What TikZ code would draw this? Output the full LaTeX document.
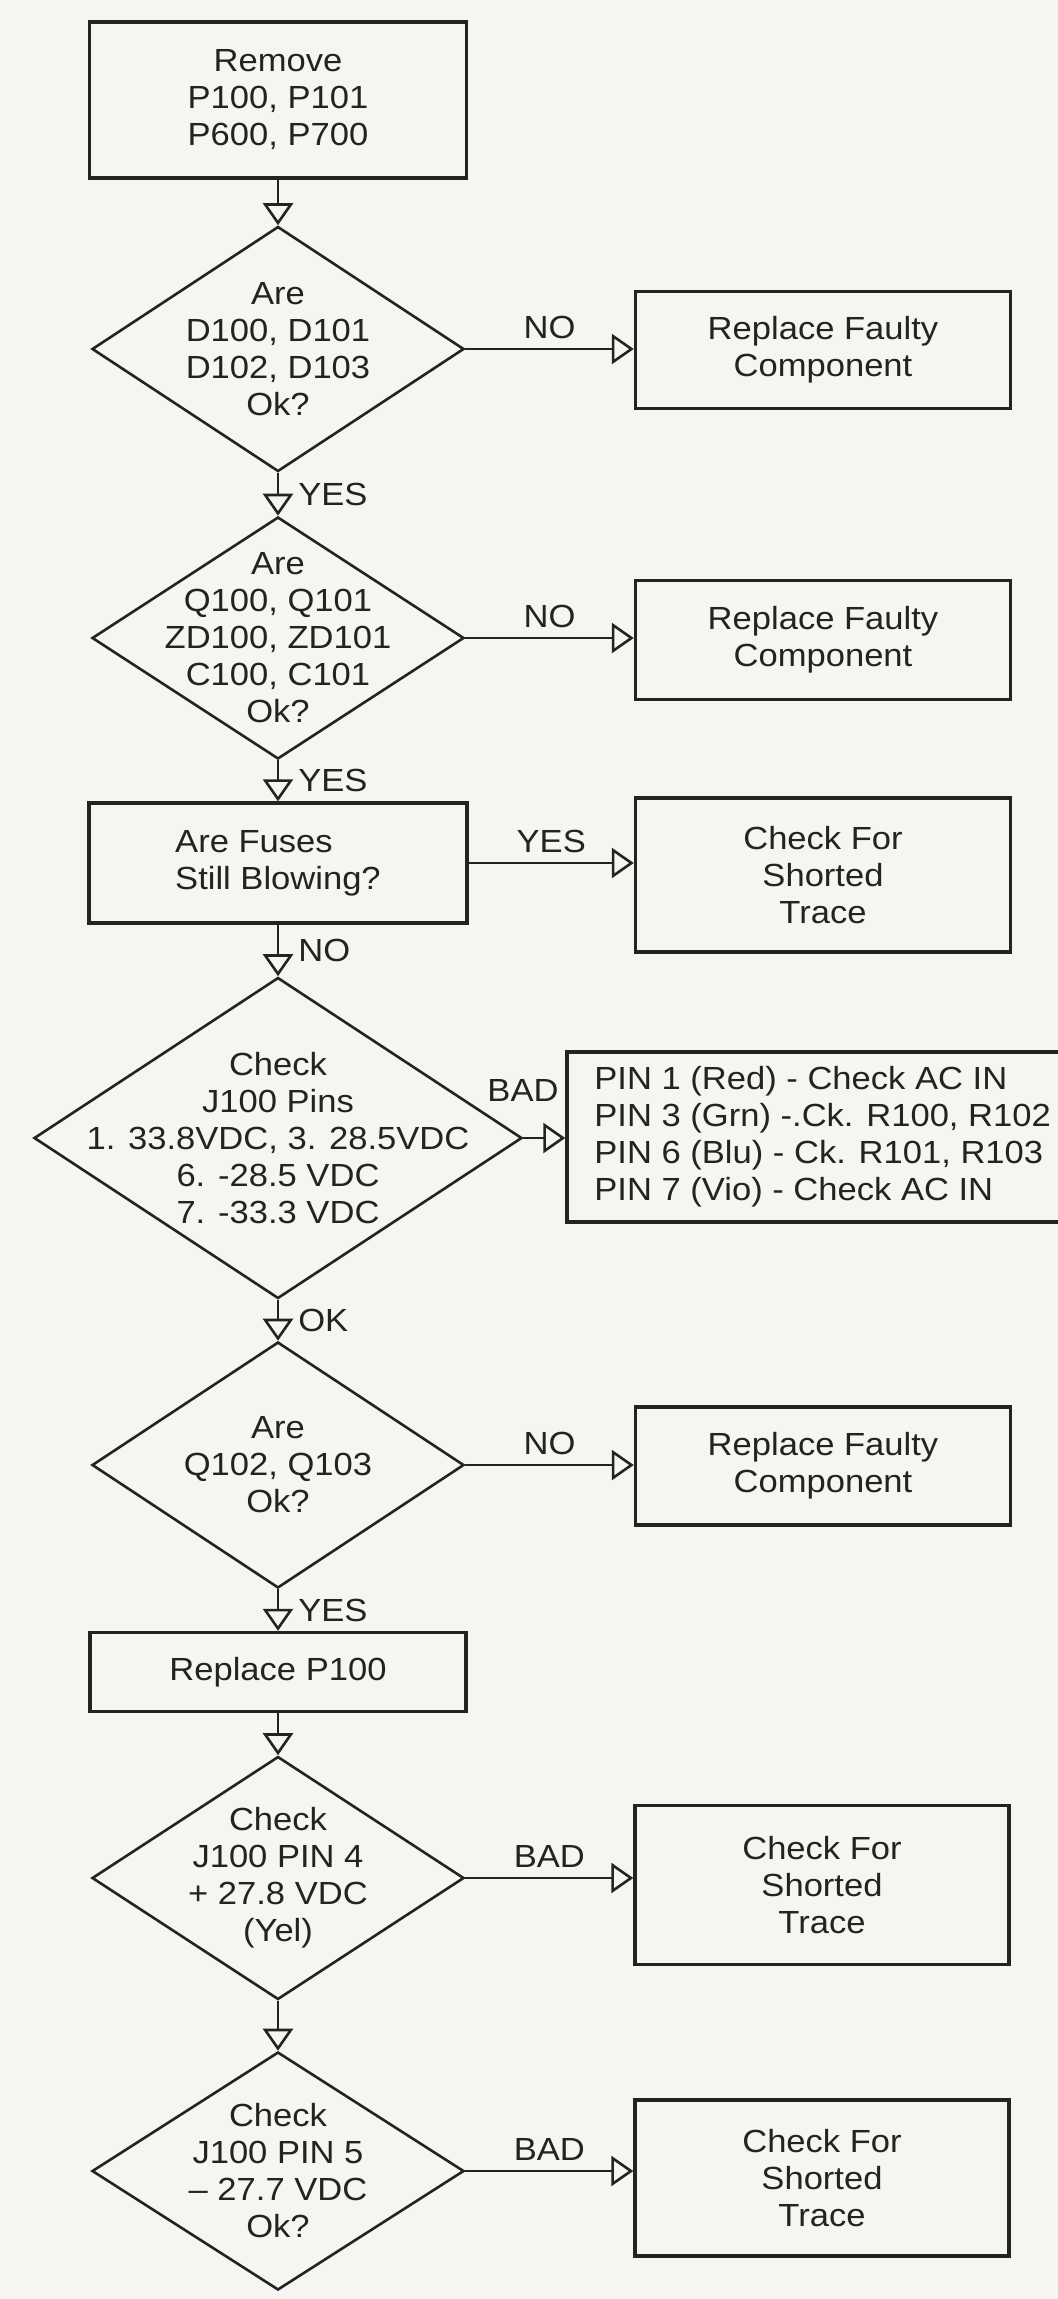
\documentclass[tikz,border=0pt]{standalone}
\usepackage{fontspec}
\setmainfont{Liberation Sans}[FakeStretch=1.08]
\usetikzlibrary{shapes.geometric,arrows.meta}
\definecolor{paper}{RGB}{246,245,241}
\definecolor{ink}{RGB}{35,35,35}
\begin{document}
\begin{tikzpicture}[x=0.5pt,y=-0.5pt,
  every node/.style={font=\fontsize{16}{18.5}\selectfont, text=ink},
  box/.style={draw=ink, line width=1.7pt, rectangle, inner sep=0pt, align=center},
  dia/.style={draw=ink, line width=1.3pt, diamond, inner sep=0pt, minimum width=186pt},
  txt/.style={inner sep=0pt, align=center},
  flow/.style={draw=ink, line width=1.3pt, -{Triangle[open, length=11pt, width=15pt, line width=1.3pt]}},
  lblh/.style={above=4.5pt, inner sep=0pt},
  lblv/.style={right=9.5pt, inner sep=0pt}]
\useasboundingbox (0,0) rectangle (1058,2299);
\fill[paper] (0,0) rectangle (1058,2299);

% left column
\node[box, minimum width=188.5pt, minimum height=78pt] (b1) at (278,100) {Remove\\P100, P101\\P600, P700};
\node[dia, minimum height=122.5pt] (d1) at (278,349) {};
\node[txt] (d1t) at (d1) {Are\\D100, D101\\D102, D103\\Ok?};
\node[dia, minimum height=121pt] (d2) at (278,638) {};
\node[txt] (d2t) at (d2) {Are\\Q100, Q101\\ZD100, ZD101\\C100, C101\\Ok?};
\node[box, minimum width=189pt, minimum height=60pt, align=left] (f) at (278,863) {Are Fuses\\Still Blowing?};
\node[dia, minimum width=244pt, minimum height=160.5pt] (d3) at (278,1138) {};
\node[txt] (d3t) at (d3) {Check\\J100 Pins\\1. 33.8VDC, 3. 28.5VDC\\6. -28.5 VDC\\7. -33.3 VDC};
\node[dia, minimum height=123pt] (d4) at (278,1465) {};
\node[txt] (d4t) at (d4) {Are\\Q102, Q103\\Ok?};
\node[box, minimum width=188pt, minimum height=39.5pt] (rp) at (278,1672) {Replace P100};
\node[dia, minimum height=121.5pt] (d5) at (278,1878) {};
\node[txt] (d5t) at (d5) {Check\\J100 PIN 4\\+ 27.8 VDC\\(Yel)};
\node[dia, minimum height=119pt] (d6) at (278,2171) {};
\node[txt] (d6t) at (d6) {Check\\J100 PIN 5\\– 27.7 VDC\\Ok?};

% right column
\node[box, minimum width=187.5pt, minimum height=58.5pt] (r1) at (823,350) {Replace Faulty\\Component};
\node[box, minimum width=187.5pt, minimum height=59.5pt] (r2) at (823,640) {Replace Faulty\\Component};
\node[box, minimum width=187.5pt, minimum height=77pt] (c1) at (823,875) {Check For\\Shorted\\Trace};
\node[box, minimum width=266.5pt, minimum height=85pt] (p) at (833.5,1137) {};
\node[txt, anchor=west, align=left] (pt) at (594,1137) {PIN 1 (Red) - Check AC IN\\PIN 3 (Grn) -.Ck. R100, R102\\PIN 6 (Blu) - Ck. R101, R103\\PIN 7 (Vio) - Check AC IN};
\node[box, minimum width=187.5pt, minimum height=59pt] (r3) at (823,1466) {Replace Faulty\\Component};
\node[box, minimum width=187pt, minimum height=79.5pt] (c2) at (822,1885) {Check For\\Shorted\\Trace};
\node[box, minimum width=187pt, minimum height=78pt] (c3) at (822,2178) {Check For\\Shorted\\Trace};

% connectors
\draw[flow] (b1.south) -- (d1.north);
\draw[flow] (d1.east) -- node[lblh] (l1) {NO} (d1.east -| r1.west);
\draw[flow] (d1.south) -- node[lblv] (l2) {YES} (d2.north);
\draw[flow] (d2.east) -- node[lblh] (l3) {NO} (d2.east -| r2.west);
\draw[flow] (d2.south) -- node[lblv] (l4) {YES} (f.north);
\draw[flow] (f.east) -- node[lblh] (l5) {YES} (f.east -| c1.west);
\draw[flow] (f.south) -- node[lblv] (l6) {NO} (d3.north);
\draw[flow] (d3.east) -- (d3.east -| p.west);
\node[inner sep=0pt] (l7) at (523,1090) {BAD};
\draw[flow] (d3.south) -- node[lblv] (l8) {OK} (d4.north);
\draw[flow] (d4.east) -- node[lblh] (l9) {NO} (d4.east -| r3.west);
\draw[flow] (d4.south) -- node[lblv] (l10) {YES} (rp.north);
\draw[flow] (rp.south) -- (d5.north);
\draw[flow] (d5.east) -- node[lblh] (l11) {BAD} (d5.east -| c2.west);
\draw[flow] (d5.south) -- (d6.north);
\draw[flow] (d6.east) -- node[lblh] (l12) {BAD} (d6.east -| c3.west);
\end{tikzpicture}
\end{document}
